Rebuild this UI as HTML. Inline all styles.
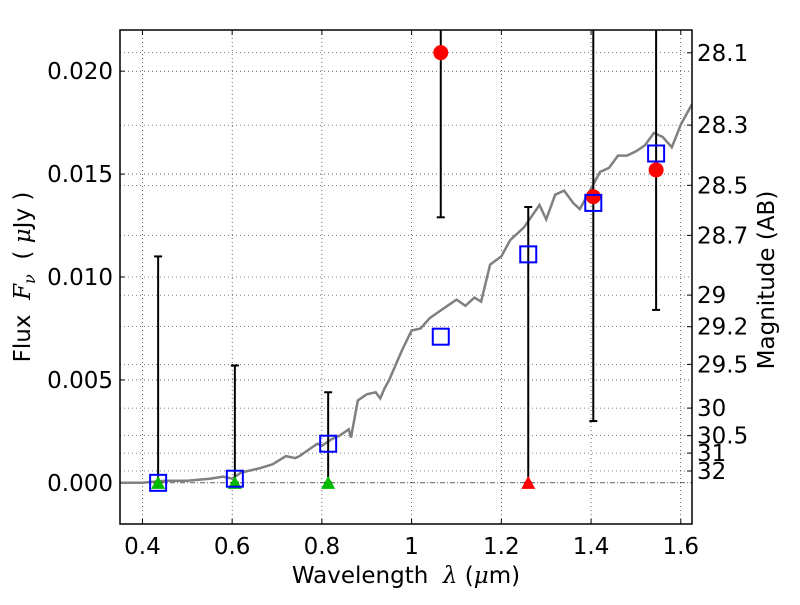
<!DOCTYPE html>
<html><head><meta charset="utf-8"><style>
body{margin:0;background:#fff}
svg{font-family:"DejaVu Sans","Liberation Sans",sans-serif}
text{white-space:pre}
</style></head><body>
<svg id="c" width="800" height="600" xmlns="http://www.w3.org/2000/svg"></svg>
<script>
const xTicks=[0.4,0.6,0.8,1.0,1.2,1.4,1.6];
const xTickLabels=["0.4","0.6","0.8","1","1.2","1.4","1.6"];
const yTicks=[0,0.005,0.010,0.015,0.020];
const yTickLabels=["0.000","0.005","0.010","0.015","0.020"];
const magTicks=[28.1,28.3,28.5,28.7,29,29.2,29.5,30,30.5,31,32];
const specX=[0.35,0.40,0.45,0.50,0.55,0.58,0.60,0.62,0.64,0.66,0.69,0.72,0.74,0.75,0.77,0.79,0.80,0.82,0.84,0.86,0.865,0.88,0.90,0.92,0.93,0.94,0.95,0.97,0.98,1.0,1.02,1.04,1.06,1.08,1.10,1.12,1.14,1.155,1.175,1.20,1.22,1.25,1.285,1.30,1.32,1.34,1.36,1.375,1.40,1.42,1.44,1.46,1.48,1.50,1.52,1.54,1.56,1.58,1.60,1.625];
const specY=[0.0,0.0,0.0001,0.0001,0.0002,0.0003,0.0002,0.0005,0.0006,0.0007,0.0009,0.0013,0.0012,0.0013,0.0016,0.0019,0.0018,0.0021,0.0023,0.0026,0.0022,0.0040,0.0043,0.0044,0.0041,0.0046,0.0050,0.0060,0.0065,0.0074,0.0075,0.0080,0.0083,0.0086,0.0089,0.0086,0.0090,0.0088,0.0106,0.0110,0.0118,0.0124,0.0135,0.0128,0.0140,0.0142,0.0136,0.0133,0.0143,0.0151,0.0153,0.0159,0.0159,0.0161,0.0164,0.0170,0.0168,0.0163,0.0174,0.0184];
const bandX=[0.435,0.606,0.814,1.065,1.26,1.405,1.545];
const modelFlux=[0.0,0.0002,0.0019,0.0071,0.0111,0.0136,0.0160];
const errLow=[0,0,0,0.0129,0,0.0030,0.0084];
const errHigh=[0.0110,0.0057,0.0044,0.0240,0.0134,0.0240,0.0240];
const detX=[1.065,1.405,1.545];
const detFlux=[0.0209,0.0139,0.0152];
const ulX=[0.435,0.606,0.814];
const ulRedX=[1.26];

const L=120,R=692,T=30,B=524,x0=0.35,x1=1.625,y0=-0.002,y1=0.022;
const FS=23;
const sx=v=>L+(v-x0)/(x1-x0)*(R-L);
const sy=v=>B-(v-y0)/(y1-y0)*(B-T);
const svg=document.getElementById('c');
const NS="http://www.w3.org/2000/svg";
function mk(t,a,p){const e=document.createElementNS(NS,t);for(const k in a)e.setAttribute(k,a[k]);(p||svg).appendChild(e);return e;}
const clip=mk('clipPath',{id:'cp'});mk('rect',{x:L,y:T,width:R-L,height:B-T},clip);
xTicks.forEach((t,i)=>{const x=sx(t);
 let g=mk('line',{x1:x,x2:x,y1:T,y2:B,stroke:'#000','stroke-width':0.6,'stroke-dasharray':'1,3'});
 
 mk('line',{x1:x,x2:x,y1:B,y2:B-5,stroke:'#000'});mk('line',{x1:x,x2:x,y1:T,y2:T+5,stroke:'#000'});
 let tx=mk('text',{x:x,y:B+30,'text-anchor':'middle','font-size':FS});tx.textContent=xTickLabels[i];
 });
yTicks.forEach((t,i)=>{const y=sy(t);
 if(t!==0){let g=mk('line',{x1:L,x2:R,y1:y,y2:y,stroke:'#000','stroke-width':0.6,'stroke-dasharray':'1,3'});
 }
 mk('line',{x1:L,x2:L+5,y1:y,y2:y,stroke:'#000'});
 let tx=mk('text',{x:L-7,y:y+8,'text-anchor':'end','font-size':FS});tx.textContent=yTickLabels[i];
 });
let zl=mk('line',{x1:L,x2:R,y1:sy(0),y2:sy(0),stroke:'#000','stroke-width':0.7,'stroke-dasharray':'5,2,1,2'});

magTicks.forEach(m=>{const f=Math.pow(10,(23.9-m)/2.5);const y=sy(f);
 mk('line',{x1:R,x2:R-5,y1:y,y2:y,stroke:'#000'});
 mk('line',{x1:L,x2:R,y1:y,y2:y,stroke:'#000','stroke-width':0.5,'stroke-dasharray':'1,3'});
 let tx=mk('text',{x:R+5,y:y+8,'font-size':FS});tx.textContent=String(m);
 });
let d=specX.map((v,i)=>(i?'L':'M')+sx(v).toFixed(1)+','+sy(specY[i]).toFixed(1)).join('');
let sp=mk('path',{d:d,fill:'none',stroke:'#808080','stroke-width':2.5,'clip-path':'url(#cp)'});

bandX.forEach((b,i)=>{const x=sx(b);
 let e=mk('line',{x1:x,x2:x,y1:sy(errLow[i]),y2:sy(errHigh[i]),stroke:'#000','stroke-width':2,'clip-path':'url(#cp)'});
 
 [errLow[i],errHigh[i]].forEach(v=>{if(v<y1)mk('line',{x1:x-4,x2:x+4,y1:sy(v),y2:sy(v),stroke:'#000','stroke-width':2});});});
function tri(x,c){const X=sx(x),Y=sy(0);let p=mk('polygon',{points:`${X-7},${Y+6} ${X+7},${Y+6} ${X},${Y-7}`,fill:c});
 }
ulX.forEach(x=>tri(x,'#00bb00'));ulRedX.forEach(x=>tri(x,'#ff0000'));
detX.forEach((x,i)=>{let c=mk('circle',{cx:sx(x),cy:sy(detFlux[i]),r:7.5,fill:'#ff0000'});
 });
bandX.forEach((x,i)=>{let r=mk('rect',{x:sx(x)-8,y:sy(modelFlux[i])-8,width:16,height:16,fill:'none',stroke:'#0000ff','stroke-width':2});
 });
let fr=mk('rect',{x:L,y:T,width:R-L,height:B-T,fill:'none',stroke:'#000','stroke-width':1.5});

let xl=mk('text',{x:(L+R)/2,y:583,'text-anchor':'middle','font-size':FS});
xl.innerHTML='Wavelength  <tspan font-style="italic" font-family="DejaVu Serif">λ</tspan> (<tspan font-style="italic" font-family="DejaVu Serif">μ</tspan>m)';

let yl=mk('text',{x:0,y:0,'text-anchor':'middle','font-size':FS,transform:'translate(30,277) rotate(-90)'});
yl.innerHTML='Flux  <tspan font-style="italic" font-family="DejaVu Serif">F</tspan><tspan font-style="italic" font-family="DejaVu Serif" font-size="16" dy="5">ν</tspan><tspan dy="-5">  ( </tspan><tspan font-style="italic" font-family="DejaVu Serif">μ</tspan>Jy )';

let ml=mk('text',{x:0,y:0,'text-anchor':'middle','font-size':FS,transform:'translate(774,280) rotate(-90)'});
ml.textContent='Magnitude (AB)';

</script>
</body></html>
